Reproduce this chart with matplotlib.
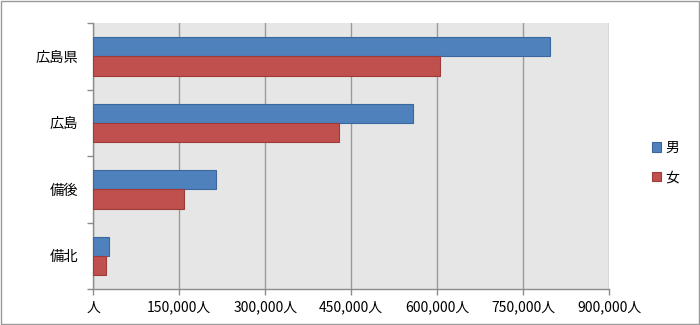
import numpy as np
import matplotlib.pyplot as plt
from matplotlib.ticker import FuncFormatter, FixedLocator

plt.rcParams['font.family'] = ['Noto Sans CJK JP', 'DejaVu Sans']

regions = ['広島県', '広島', '備後', '備北']
male = [796000, 558000, 214000, 27000]
female = [605000, 428000, 159000, 21500]
xticks = [0, 150000, 300000, 450000, 600000, 750000, 900000]

fig = plt.figure(figsize=(7, 3.25), dpi=100)
ax = fig.add_axes([0.1333, 0.110, 0.737, 0.819])

y = np.arange(len(regions))
h = 0.29
ax.barh(y - h / 2, male, height=h, color='#4F81BD', edgecolor='#3A679C',
        linewidth=0.8, label='男', zorder=3)
ax.barh(y + h / 2, female, height=h, color='#C0504D', edgecolor='#9E3B38',
        linewidth=0.8, label='女', zorder=3)

ax.set_facecolor('#e6e6e6')
ax.set_xlim(0, 900000)
ax.set_ylim(len(regions) - 0.5, -0.5)

ax.set_xticks(xticks)
ax.xaxis.set_major_formatter(FuncFormatter(lambda v, p: '人' if v == 0 else f'{int(v):,}人'))
ax.grid(axis='x', color='#9a9a9a', linewidth=1, zorder=0)

ax.set_yticks(y)
ax.set_yticklabels(regions)
ax.yaxis.set_minor_locator(FixedLocator(np.arange(-0.5, len(regions), 1)))
ax.tick_params(axis='y', which='major', length=0, pad=11, labelsize=10.3)
ax.tick_params(axis='y', which='minor', length=4, color='#8c8c8c', width=1)
ax.tick_params(axis='x', length=4, color='#8c8c8c', width=1, labelsize=10, pad=4)

for s in ['top', 'right']:
    ax.spines[s].set_visible(False)
for s in ['left', 'bottom']:
    ax.spines[s].set_color('#8c8c8c')
    ax.spines[s].set_linewidth(1)

fig.legend(loc='center left', bbox_to_anchor=(0.931, 0.5), frameon=False,
           fontsize=10, handlelength=0.7, handleheight=0.7, handletextpad=0.3,
           labelspacing=1.15, borderpad=0, borderaxespad=0)

fig.patches.append(plt.Rectangle((0.001, 0.002), 0.997, 0.995, transform=fig.transFigure,
                                 fill=False, edgecolor='#9a9a9a', linewidth=1))

fig.savefig('out.png', dpi=100)
